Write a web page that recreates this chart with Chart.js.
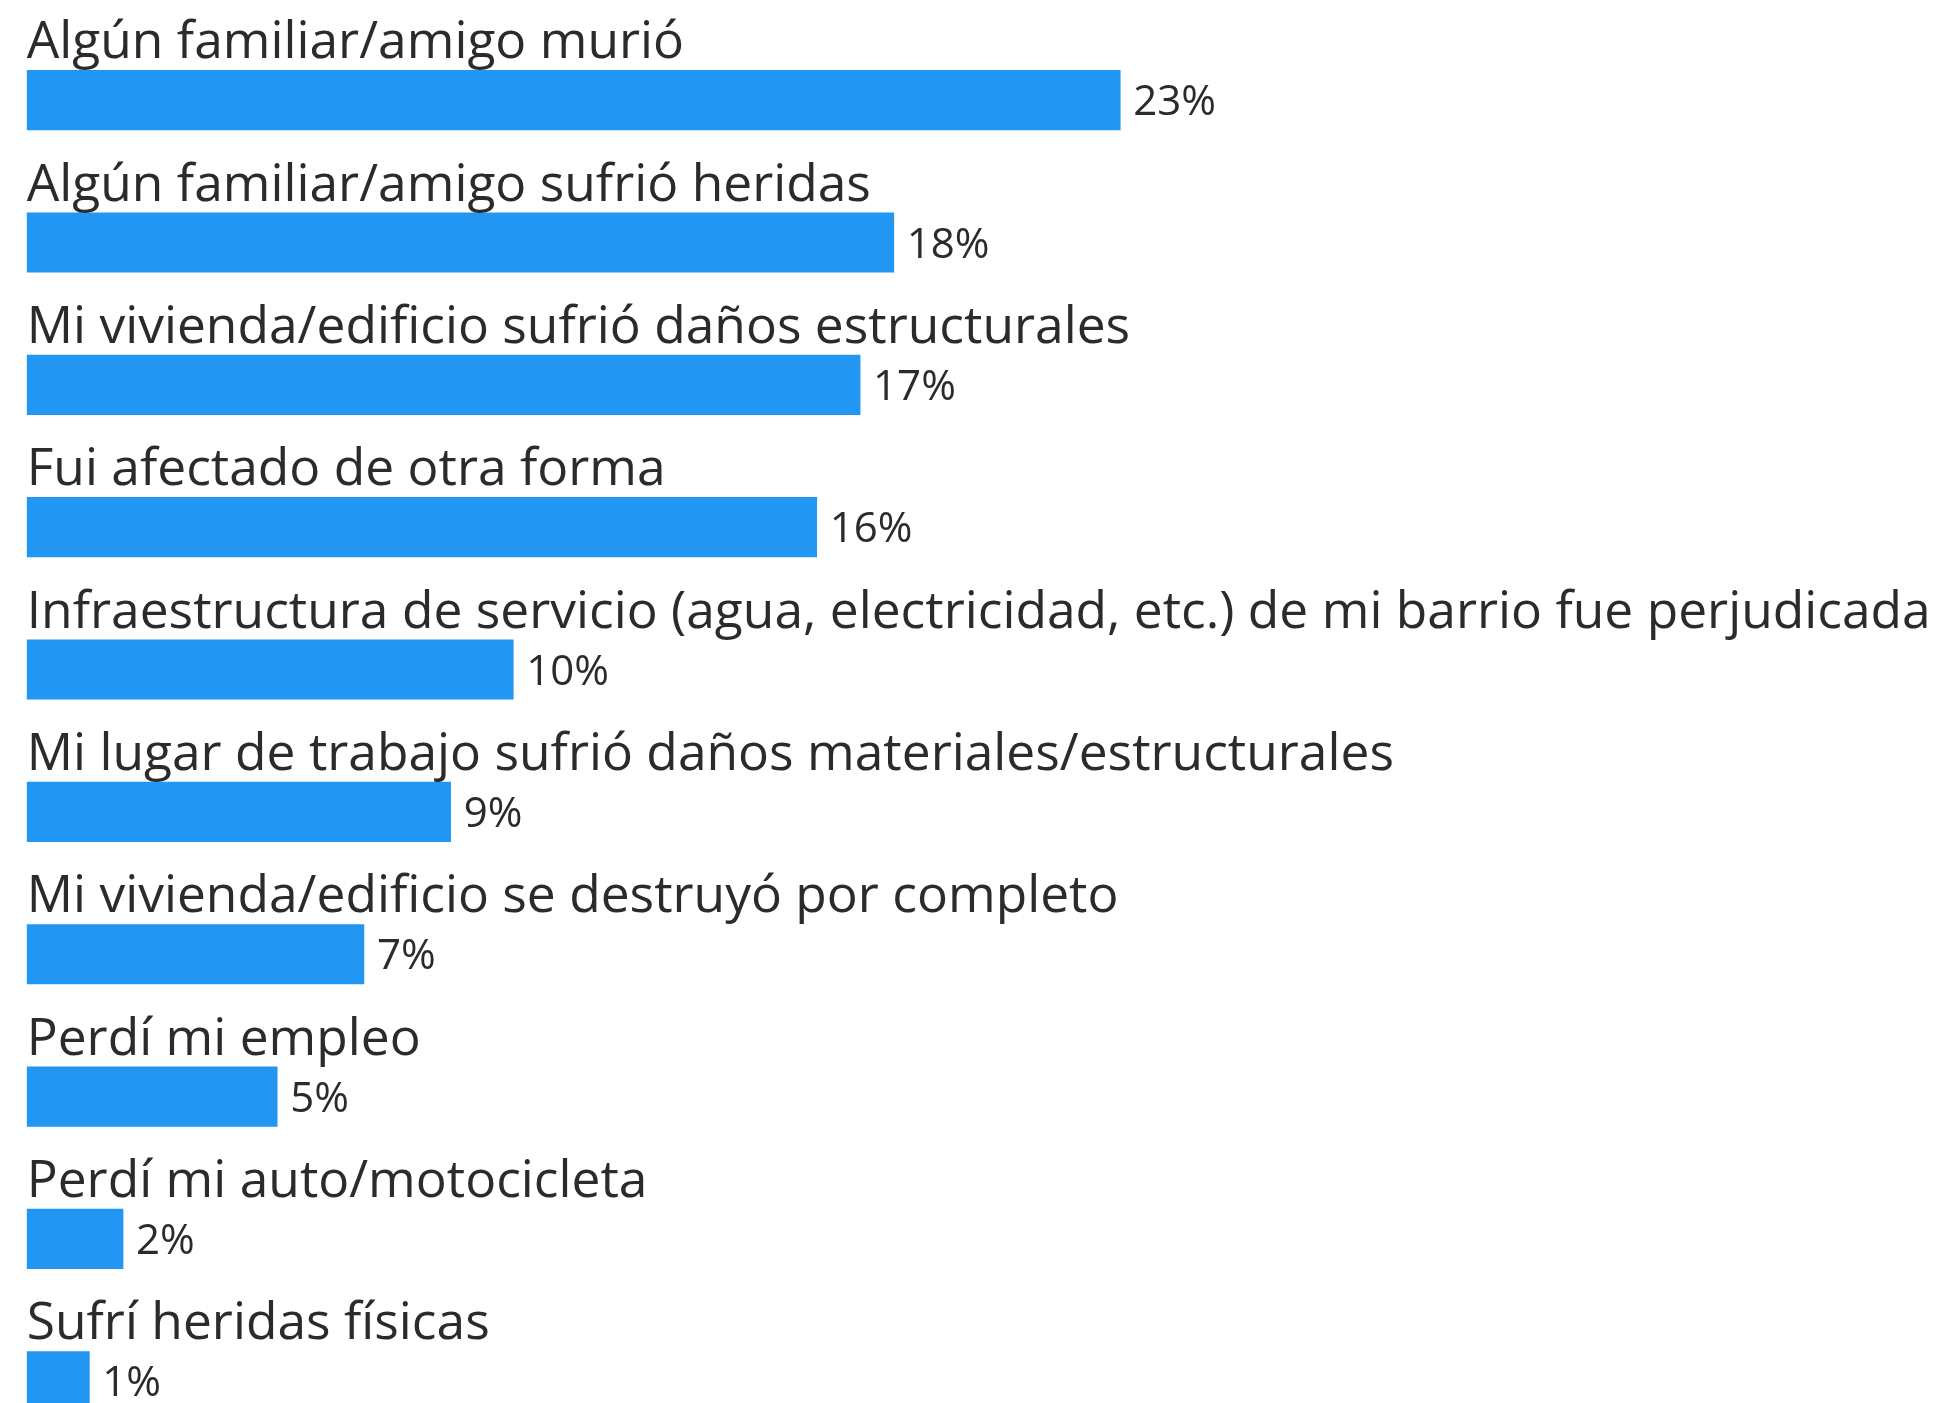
<!DOCTYPE html>
<html>
<head>
<meta charset="utf-8">
<script src="https://cdn.jsdelivr.net/npm/chart.js@4"></script>
<style>
  html, body { margin: 0; padding: 0; background: #ffffff; overflow: hidden; }
  #wrap { width: 1944px; height: 1456px; }
</style>
</head>
<body>
<div id="wrap"><canvas id="c" width="1944" height="1456"></canvas></div>
<script>
const categories = [
  "Algún familiar/amigo murió",
  "Algún familiar/amigo sufrió heridas",
  "Mi vivienda/edificio sufrió daños estructurales",
  "Fui afectado de otra forma",
  "Infraestructura de servicio (agua, electricidad, etc.) de mi barrio fue perjudicada",
  "Mi lugar de trabajo sufrió daños materiales/estructurales",
  "Mi vivienda/edificio se destruyó por completo",
  "Perdí mi empleo",
  "Perdí mi auto/motocicleta",
  "Sufrí heridas físicas"
];
const values = [22.7, 18.0, 17.3, 16.4, 10.1, 8.8, 7.0, 5.2, 2.0, 1.3];
const valueLabels = ["23%", "18%", "17%", "16%", "10%", "9%", "7%", "5%", "2%", "1%"];

const BAR_COLOR = "#2196f3";
const TEXT_COLOR = "#2b2b2b";
const LABEL_FONT = "52px 'Open Sans', 'Noto Sans', sans-serif";
const VALUE_FONT = "42px 'Open Sans', 'Noto Sans', sans-serif";
const LONGEST_LABEL_WIDTH = 1904;

const labelPlugin = {
  id: 'barLabels',
  afterDatasetsDraw(chart) {
    const ctx = chart.ctx;
    const meta = chart.getDatasetMeta(0);
    ctx.save();
    ctx.font = LABEL_FONT;
    let maxW = 0;
    categories.forEach(c => { maxW = Math.max(maxW, ctx.measureText(c).width); });
    const sx = LONGEST_LABEL_WIDTH / maxW;
    ctx.fillStyle = TEXT_COLOR;
    ctx.textBaseline = 'alphabetic';
    ctx.textAlign = 'left';
    meta.data.forEach((bar, i) => {
      const left = Math.min(bar.base, bar.x);
      ctx.save();
      ctx.font = LABEL_FONT;
      ctx.translate(left, bar.y - 42);
      ctx.scale(sx, 1);
      ctx.fillText(categories[i], 0, 0);
      ctx.restore();
      ctx.font = VALUE_FONT;
      ctx.fillText(valueLabels[i], bar.x + 13, bar.y + 15);
    });
    ctx.restore();
  }
};

new Chart(document.getElementById('c'), {
  type: 'bar',
  data: {
    labels: categories,
    datasets: [{
      data: values,
      backgroundColor: BAR_COLOR,
      borderWidth: 0,
      barThickness: 59.5
    }]
  },
  options: {
    indexAxis: 'y',
    responsive: false,
    animation: false,
    events: [],
    layout: { padding: { left: 26.7, right: 0, top: 29, bottom: 3.6 } },
    plugins: { legend: { display: false }, tooltip: { enabled: false } },
    scales: {
      x: { display: false, min: 0, max: 39.8 },
      y: { display: false }
    }
  },
  plugins: [labelPlugin]
});
</script>
</body>
</html>
